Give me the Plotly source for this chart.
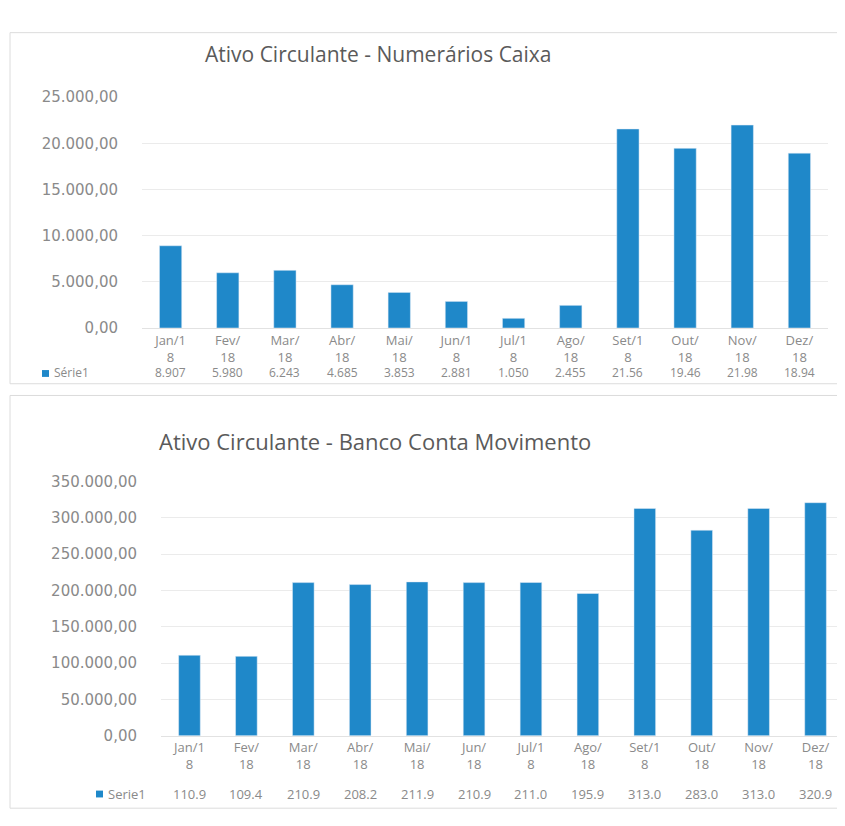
import plotly.graph_objects as go

# page body has an 8px default margin, so the figure is 8px smaller than the window
W, H = 837, 818

# ---------------- data ----------------
months = ["Jan/18", "Fev/18", "Mar/18", "Abr/18", "Mai/18", "Jun/18",
          "Jul/18", "Ago/18", "Set/18", "Out/18", "Nov/18", "Dez/18"]

caixa_ticklabels = ["Jan/1<br>8", "Fev/<br>18", "Mar/<br>18", "Abr/<br>18", "Mai/<br>18", "Jun/1<br>8",
                    "Jul/1<br>8", "Ago/<br>18", "Set/1<br>8", "Out/<br>18", "Nov/<br>18", "Dez/<br>18"]
caixa_values = [8907, 5980, 6243, 4685, 3853, 2881, 1050, 2455, 21560, 19460, 21980, 18940]
caixa_table = ["8.907", "5.980", "6.243", "4.685", "3.853", "2.881",
               "1.050", "2.455", "21.56", "19.46", "21.98", "18.94"]

banco_ticklabels = ["Jan/1<br>8", "Fev/<br>18", "Mar/<br>18", "Abr/<br>18", "Mai/<br>18", "Jun/<br>18",
                    "Jul/1<br>8", "Ago/<br>18", "Set/1<br>8", "Out/<br>18", "Nov/<br>18", "Dez/<br>18"]
banco_values = [110900, 109400, 210900, 208200, 211900, 210900,
                211000, 195900, 313000, 283000, 313000, 320900]
banco_table = ["110.9", "109.4", "210.9", "208.2", "211.9", "210.9",
               "211.0", "195.9", "313.0", "283.0", "313.0", "320.9"]

title_top = "Ativo Circulante - Numerários Caixa"
title_bottom = "Ativo Circulante - Banco Conta Movimento"
series_top = "Série1"
series_bottom = "Serie1"

# ---------------- styling ----------------
BAR = "#1f88c9"
GRID = "#ebebeb"
TXT = "#8a8a8a"
TITLE = "#5a5a5a"
FONT = "Open Sans"
TICKFONT = "DejaVu Sans"


def px(x):
    return x / W


def py(y):
    return 1 - y / H


fig = go.Figure()

fig.add_trace(go.Bar(x=months, y=caixa_values, marker_color=BAR, width=0.39,
                     xaxis="x", yaxis="y", showlegend=False, hoverinfo="skip"))
fig.add_trace(go.Bar(x=months, y=banco_values, marker_color=BAR, width=0.38,
                     xaxis="x2", yaxis="y2", showlegend=False, hoverinfo="skip"))

axis_common = dict(showgrid=True, gridcolor=GRID, gridwidth=1, zeroline=False,
                   showline=False, tickformat=",.2f",
                   ticks="outside", ticklen=20, tickcolor="rgba(0,0,0,0)",
                   tickfont=dict(family=TICKFONT, size=15, color=TXT), fixedrange=True)

xaxis_common = dict(tickmode="array", tickvals=months, showgrid=False,
                    showline=True, linecolor="#e2e2e2", ticks="", tickangle=0,
                    tickfont=dict(family=FONT, size=13, color=TXT), fixedrange=True)

fig.update_layout(
    width=W, height=H,
    margin=dict(l=0, r=0, t=0, b=0),
    paper_bgcolor="white", plot_bgcolor="white",
    separators=",.",
    xaxis=dict(domain=[px(134), px(820)], anchor="y", ticktext=caixa_ticklabels, **xaxis_common),
    yaxis=dict(domain=[py(318), py(82)], anchor="x", range=[0, 25000], dtick=5000, **axis_common),
    xaxis2=dict(domain=[px(153), px(836)], anchor="y2", ticktext=banco_ticklabels, **xaxis_common),
    yaxis2=dict(domain=[py(735), py(475)], anchor="x2", range=[0, 350000], dtick=50000, **axis_common),
)

annotations = []
# titles
annotations.append(dict(text=title_top, x=px(370), y=py(38), xref="paper", yref="paper",
                        showarrow=False, xanchor="center", yanchor="middle",
                        font=dict(family=FONT, size=21, color=TITLE)))
annotations.append(dict(text=title_bottom, x=px(367), y=py(434), xref="paper", yref="paper",
                        showarrow=False, xanchor="center", yanchor="middle",
                        font=dict(family=FONT, size=22, color=TITLE)))

# data table rows
for m, t in zip(months, caixa_table):
    annotations.append(dict(text=t, x=m, y=py(364), xref="x", yref="paper",
                            showarrow=False, xanchor="center", yanchor="middle",
                            font=dict(family=FONT, size=12, color=TXT)))
for m, t in zip(months, banco_table):
    annotations.append(dict(text=t, x=m, y=py(794), xref="x2", yref="paper",
                            showarrow=False, xanchor="center", yanchor="middle",
                            font=dict(family=FONT, size=13, color=TXT)))

# legend keys
annotations.append(dict(text=series_top, x=px(44), y=py(364), xref="paper", yref="paper",
                        showarrow=False, xanchor="left", yanchor="middle",
                        font=dict(family=FONT, size=12, color=TXT)))
annotations.append(dict(text=series_bottom, x=px(98), y=py(794), xref="paper", yref="paper",
                        showarrow=False, xanchor="left", yanchor="middle",
                        font=dict(family=FONT, size=13, color=TXT)))

shapes = [
    dict(type="rect", xref="paper", yref="paper", x0=px(34), x1=px(41), y0=py(368), y1=py(361),
         fillcolor=BAR, line=dict(width=0)),
    dict(type="rect", xref="paper", yref="paper", x0=px(88), x1=px(95), y0=py(798), y1=py(791),
         fillcolor=BAR, line=dict(width=0)),
    # chart borders
    dict(type="rect", xref="paper", yref="paper", x0=px(2), x1=px(832), y0=py(375), y1=py(16),
         line=dict(color="#dcdcdc", width=1), fillcolor="rgba(0,0,0,0)"),
    dict(type="rect", xref="paper", yref="paper", x0=px(2), x1=px(836), y0=py(809), y1=py(387),
         line=dict(color="#dcdcdc", width=1), fillcolor="rgba(0,0,0,0)"),
]

fig.update_layout(annotations=annotations, shapes=shapes)

fig.write_html("out.html")
